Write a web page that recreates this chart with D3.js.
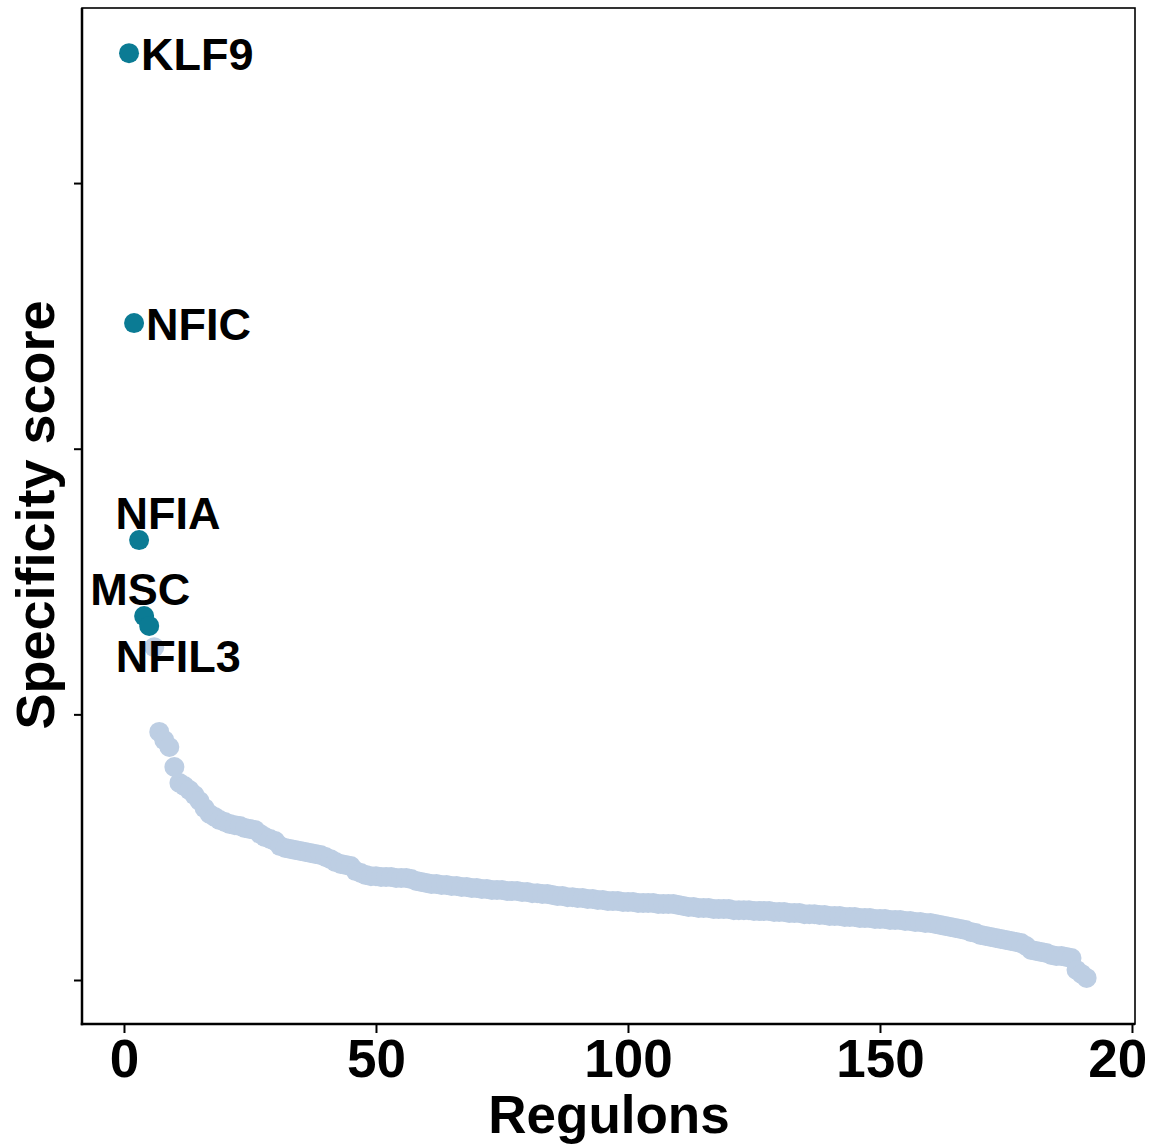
<!DOCTYPE html>
<html>
<head>
<meta charset="utf-8">
<script src="https://cdn.jsdelivr.net/npm/d3@7"></script>
<style>
html,body{margin:0;padding:0;background:#fff;}
svg{display:block;}
text{font-family:"Liberation Sans",Arial,sans-serif;font-weight:bold;fill:#000;}
</style>
</head>
<body>
<svg id="chart" width="1150" height="1148"></svg>
<script>
// Labelled (top) regulons
const topNames = ["KLF9", "NFIC", "NFIA", "MSC", "NFIL3"];
const topRanks = [1, 2, 3, 4, 5];
const topScores = [0.5489, 0.4473, 0.3656, 0.3370, 0.3333];
// label offsets (px) relative to points, like ggrepel placement
const labelDx = [12, 12, 29, -4, 29];
const labelDy = [1, 1, -27, -27, 31];
const labelAnchor = ["start", "start", "middle", "middle", "middle"];

// remaining regulons, rank 6 .. 191
const otherStartRank = 6;
const otherScores = [
  0.3253, 0.2934, 0.2903, 0.2877, 0.2802, 0.2742, 0.2730, 0.2715, 0.2696, 0.2674,
  0.2647, 0.2625, 0.2614, 0.2602, 0.2595, 0.2587, 0.2583, 0.2580, 0.2572, 0.2568,
  0.2565, 0.2550, 0.2538, 0.2531, 0.2523, 0.2504, 0.2497, 0.2493, 0.2489, 0.2486,
  0.2482, 0.2478, 0.2474, 0.2471, 0.2463, 0.2455, 0.2444, 0.2437, 0.2433, 0.2429,
  0.2410, 0.2403, 0.2395, 0.2391, 0.2391, 0.2388, 0.2388, 0.2388, 0.2384, 0.2384,
  0.2384, 0.2380, 0.2373, 0.2369, 0.2365, 0.2361, 0.2361, 0.2358, 0.2358, 0.2354,
  0.2354, 0.2350, 0.2350, 0.2346, 0.2346, 0.2343, 0.2343, 0.2339, 0.2339, 0.2339,
  0.2335, 0.2335, 0.2335, 0.2331, 0.2331, 0.2327, 0.2327, 0.2324, 0.2324, 0.2320,
  0.2316, 0.2316, 0.2312, 0.2312, 0.2309, 0.2309, 0.2305, 0.2305, 0.2301, 0.2301,
  0.2297, 0.2297, 0.2297, 0.2294, 0.2294, 0.2294, 0.2290, 0.2290, 0.2290, 0.2290,
  0.2286, 0.2286, 0.2286, 0.2286, 0.2282, 0.2279, 0.2275, 0.2275, 0.2271, 0.2271,
  0.2271, 0.2267, 0.2267, 0.2267, 0.2267, 0.2263, 0.2263, 0.2263, 0.2263, 0.2260,
  0.2260, 0.2260, 0.2260, 0.2256, 0.2256, 0.2256, 0.2252, 0.2252, 0.2252, 0.2248,
  0.2248, 0.2248, 0.2245, 0.2245, 0.2241, 0.2241, 0.2241, 0.2237, 0.2237, 0.2237,
  0.2233, 0.2233, 0.2233, 0.2230, 0.2230, 0.2230, 0.2226, 0.2226, 0.2226, 0.2222,
  0.2222, 0.2218, 0.2218, 0.2215, 0.2215, 0.2211, 0.2207, 0.2203, 0.2200, 0.2196,
  0.2192, 0.2188, 0.2181, 0.2177, 0.2169, 0.2166, 0.2162, 0.2158, 0.2154, 0.2151,
  0.2147, 0.2143, 0.2139, 0.2128, 0.2113, 0.2109, 0.2105, 0.2102, 0.2094, 0.2090,
  0.2090, 0.2087, 0.2083, 0.2038, 0.2023, 0.2008
];

const xTicks = [0, 50, 100, 150, 200];
const yTicks = [0.2, 0.3, 0.4, 0.5];
const xTitle = "Regulons";
const yTitle = "Specificity score";

const panel = {left: 82, right: 1135, top: 8, bottom: 1024};
const svg = d3.select("#chart");

// the reference image is cropped just right of the "20" of the last tick label
svg.append("defs").append("clipPath").attr("id", "pageclip")
  .append("rect").attr("x", 0).attr("y", 0).attr("width", 1146).attr("height", 1148);

const x = d3.scaleLinear().domain([-8.33, 200.6]).range([panel.left, panel.right]);
const y = d3.scaleLinear().domain([0.18344, 0.5659]).range([panel.bottom, panel.top]);

const others = otherScores.map((v, i) => ({rank: otherStartRank + i, score: v}));
const tops = topNames.map((n, i) => ({name: n, rank: topRanks[i], score: topScores[i], dx: labelDx[i], dy: labelDy[i], anchor: labelAnchor[i]}));

// panel border
svg.append("rect")
  .attr("x", panel.left).attr("y", panel.top)
  .attr("width", panel.right - panel.left).attr("height", panel.bottom - panel.top)
  .attr("fill", "none").attr("stroke", "#000").attr("stroke-width", 1.6);

// points
svg.append("g").selectAll("circle").data(others).join("circle")
  .attr("cx", d => x(d.rank)).attr("cy", d => y(d.score)).attr("r", 10)
  .attr("fill", "#bdcee3");

svg.append("g").selectAll("circle").data(tops).join("circle")
  .attr("cx", d => x(d.rank)).attr("cy", d => y(d.score)).attr("r", 10)
  .attr("fill", "#0b7b94");

// labels
svg.append("g").selectAll("text").data(tops).join("text")
  .attr("x", d => x(d.rank) + d.dx).attr("y", d => y(d.score) + d.dy)
  .attr("text-anchor", d => d.anchor).attr("dominant-baseline", "central")
  .style("font-size", "45px")
  .text(d => d.name);

// axes
const xAxis = svg.append("g").attr("clip-path", "url(#pageclip)")
  .append("g").attr("transform", `translate(0,${panel.bottom})`)
  .call(d3.axisBottom(x).tickValues(xTicks).tickSize(9).tickPadding(6).tickFormat(d3.format("d")));
const yAxis = svg.append("g").attr("transform", `translate(${panel.left},0)`)
  .call(d3.axisLeft(y).tickValues(yTicks).tickSize(8).tickFormat(""));
[xAxis, yAxis].forEach(g => {
  g.select(".domain").remove();
  g.selectAll(".tick line").attr("stroke", "#000").attr("stroke-width", 2);
});
xAxis.selectAll(".tick text").style("font-size", "53px").attr("fill", "#000");

// heavier axis lines
svg.append("line").attr("x1", panel.left).attr("x2", panel.left)
  .attr("y1", panel.top).attr("y2", panel.bottom + 1.25)
  .attr("stroke", "#000").attr("stroke-width", 2.5);
svg.append("line").attr("x1", panel.left - 1.25).attr("x2", panel.right)
  .attr("y1", panel.bottom).attr("y2", panel.bottom)
  .attr("stroke", "#000").attr("stroke-width", 2.5);

// titles
svg.append("text").attr("x", 609).attr("y", 1133)
  .attr("text-anchor", "middle").style("font-size", "53px").text(xTitle);
svg.append("text")
  .attr("transform", `translate(54,515) rotate(-90)`)
  .attr("text-anchor", "middle").style("font-size", "54px").text(yTitle);
</script>
</body>
</html>
